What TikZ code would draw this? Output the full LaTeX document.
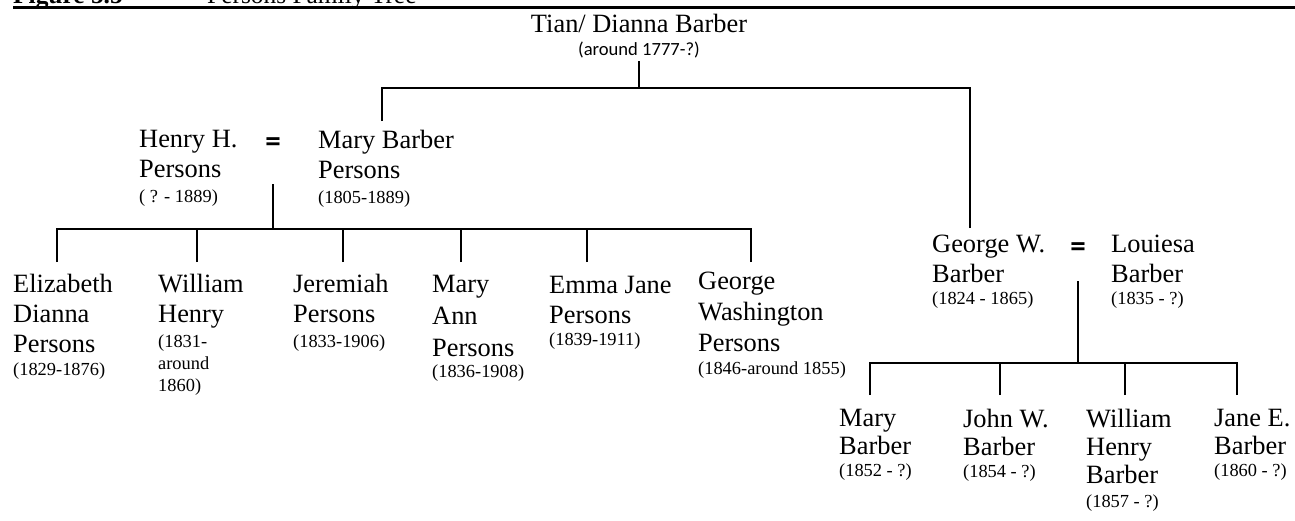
\documentclass[tikz,border=0pt]{standalone}
\usepackage{fontspec}
\setmainfont{Liberation Serif}
\newfontfamily\calfont{Carlito}
\newcommand\namefont{\fontsize{26.4}{30}\selectfont}
\newcommand\datefont{\fontsize{18.4}{22}\selectfont}
\tikzset{
    tree/.style={line width=2.6pt}, % lines of the family tree
    person/.style={anchor=north west, inner sep=0pt, align=left, font=\namefont}, % one person with dates
    marriage/.style={inner sep=0pt, font=\calfont\bfseries\fontsize{31}{34}\selectfont} % the = between a couple
}
\begin{document}
\begin{tikzpicture}[x=1pt, y=-1pt]
    \useasboundingbox (0,0) rectangle (1295,520);
    % heading, cut off at the top edge
    \begin{scope}
        \clip (0,0) rectangle (1295,520);
        \node[anchor=base west, inner sep=0pt, font=\fontsize{25.4}{30}\selectfont\bfseries] (fig) at (13,3) {Figure 5.5};
        \node[anchor=base west, inner sep=0pt, font=\fontsize{25.4}{30}\selectfont] (ftitle) at (207,3) {Persons Family Tree};
    \end{scope}
    \draw[line width=3pt] (13,7) -- (1295,7);

    \node[anchor=north, inner sep=0pt, align=center, font=\namefont] (tian) at (639,14) {Tian/ Dianna Barber\\[-7pt]{\calfont\fontsize{18.6}{22}\selectfont(around 1777-?)}};

    % first generation
    \node[person] (hhp) at (139,130) {Henry H.\\Persons\\[-5pt]\datefont( ? - 1889)};
    \node[marriage] (eqp) at (273,145) {=};
    \node[person] (mary) at (318,130) {Mary Barber\\Persons\\[-5pt]\datefont(1805-1889)};
    \node[person] (gwb) at (932,235) {George W.\\Barber\\[-8pt]\datefont(1824 - 1865)};
    \node[marriage] (eqb) at (1078,250) {=};
    \node[person] (lou) at (1111,235) {Louiesa\\Barber\\[-8pt]\datefont(1835 - ?)};

    % children of Henry and Mary
    \node[person] (eliz) at (13,274) {Elizabeth\\Dianna\\Persons\\[-7pt]\datefont(1829-1876)};
    \node[person] (will) at (158,274) {William\\Henry\\[-5pt]\datefont(1831-\\[-8pt]\datefont around\\[-8pt]\datefont 1860)};
    \node[person] (jer) at (293,274) {Jeremiah\\Persons\\[-5pt]\datefont(1833-1906)};
    \node[person] (mann) at (432,275) {Mary\\[2pt]Ann\\[2pt]Persons\\[-9pt]\datefont(1836-1908)};
    \node[person] (emma) at (549,276) {Emma Jane\\Persons\\[-8pt]\datefont(1839-1911)};
    \node[person] (gwp) at (698,272) {George\\[1pt]Washington\\[1pt]Persons\\[-7pt]\datefont(1846-around 1855)};

    % children of George and Louiesa
    \node[person] (mb) at (839,409) {Mary\\[-2pt]Barber\\[-8pt]\datefont(1852 - ?)};
    \node[person] (jwb) at (963,409) {John W.\\[-2pt]Barber\\[-8pt]\datefont(1854 - ?)};
    \node[person] (whb) at (1086,409) {William\\[-2pt]Henry\\[-2pt]Barber\\[-6pt]\datefont(1857 - ?)};
    \node[person] (jeb) at (1214,409) {Jane E.\\[-2pt]Barber\\[-8pt]\datefont(1860 - ?)};

    \coordinate (tbar) at (639,88);
    \coordinate (pbar) at (273,229);
    \coordinate (bbar) at (1078,363);

    \draw[tree] (tian.south) ++(0,3) -- (tbar);
    \draw[tree] ([xshift=64pt, yshift=9pt]mary.north west) |- (tbar);
    \draw[tree] ([xshift=38pt, yshift=7pt]gwb.north west) |- (tbar);

    \draw[tree] (eqp.south) ++(0,32) -- (pbar);
    \foreach \c/\dx/\dy in {eliz/44/12, will/39/12, jer/50/12, mann/29/13, emma/38/14, gwp/53/10}
        \draw[tree] ([xshift=\dx pt, yshift=\dy pt]\c.north west) |- (pbar);

    \draw[tree] (eqb.south) ++(0,24) -- (bbar);
    \foreach \c/\dx in {mb/31, jwb/37, whb/39, jeb/23}
        \draw[tree] ([xshift=\dx pt, yshift=14pt]\c.north west) |- (bbar);
\end{tikzpicture}
\end{document}
